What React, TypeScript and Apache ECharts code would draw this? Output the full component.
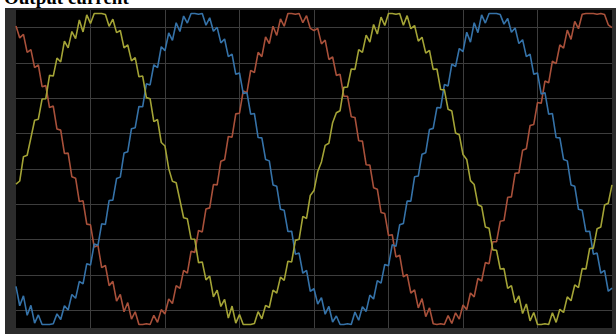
import React, { useEffect, useRef } from "react";
import * as echarts from "echarts";

// time in ms, one sample every 0.25 ms over 40 ms (two 50 Hz periods)
const times: number[] = Array.from({ length: 161 }, (_, i) => i * 0.25);

// phase currents (A)
const phaseYellow: number[] = [
  -43, -34, 35, 39, 88, 138, 141, 198, 199, 265, 263, 314, 303, 362, 343, 389, 369, 422, 388, 436,
  412, 440, 440, 440, 437, 404, 424, 386, 392, 343, 351, 306, 315, 261, 263, 202, 199, 134, 140, 75,
  65, 1, -35, -39, -88, -138, -141, -198, -199, -265, -263, -314, -303, -362, -343, -389, -369, -422, -388, -436,
  -412, -440, -440, -440, -437, -404, -424, -386, -392, -343, -351, -306, -315, -261, -263, -202, -199, -134, -140, -75,
  -61, -7, 20, 67, 73, 131, 159, 165, 231, 232, 283, 282, 338, 330, 379, 359, 409, 382, 430, 406,
  440, 440, 438, 440, 407, 434, 397, 406, 362, 373, 328, 336, 282, 283, 225, 224, 169, 164, 102, 97,
  41, 27, -33, -44, -101, -106, -164, -168, -229, -230, -283, -282, -338, -330, -379, -359, -409, -382, -430, -406,
  -440, -440, -438, -440, -407, -434, -397, -406, -362, -373, -328, -336, -282, -283, -225, -224, -169, -164, -102, -97,
  -45,
];
const phaseBlue: number[] = [
  -332, -387, -359, -414, -386, -436, -413, -440, -440, -440, -438, -410, -426, -387, -399, -355, -366, -318, -325, -268,
  -272, -212, -216, -155, -157, -89, -88, -27, -23, 45, 49, 114, 117, 177, 176, 241, 238, 295, 287, 346,
  335, 385, 364, 414, 389, 433, 413, 440, 440, 438, 440, 407, 428, 390, 401, 357, 368, 318, 325, 268,
  272, 214, 216, 155, 157, 89, 88, 27, 23, -45, -49, -114, -117, -177, -176, -241, -238, -295, -287, -346,
  -339, -382, -364, -411, -389, -433, -416, -440, -440, -438, -440, -405, -428, -390, -403, -357, -368, -316, -323, -270,
  -274, -214, -219, -158, -154, -91, -91, -22, -20, 42, 46, 112, 115, 174, 173, 239, 235, 297, 290, 341,
  332, 387, 359, 414, 386, 436, 413, 440, 440, 440, 437, 410, 426, 387, 399, 355, 366, 318, 325, 268,
  272, 212, 216, 155, 157, 89, 88, 27, 23, -45, -49, -114, -117, -177, -176, -241, -238, -295, -287, -346,
  -337,
];
const phaseRed: number[] = [
  405, 371, 381, 330, 338, 287, 295, 233, 236, 174, 178, 113, 110, 44, 45, -22, -26, -92, -90, -156,
  -158, -221, -216, -279, -273, -330, -318, -374, -355, -404, -378, -425, -404, -440, -440, -438, -440, -414, -434, -398,
  -410, -368, -381, -330, -338, -287, -295, -233, -236, -174, -178, -113, -110, -44, -45, 22, 26, 92, 90, 156,
  158, 221, 216, 279, 273, 330, 318, 374, 355, 404, 378, 425, 404, 440, 440, 438, 440, 414, 434, 398,
  392, 398, 354, 365, 310, 317, 265, 268, 206, 206, 148, 146, 80, 79, 12, 11, -53, -57, -123, -126,
  -188, -186, -249, -244, -305, -298, -351, -342, -393, -367, -418, -393, -438, -440, -438, -440, -415, -437, -407, -425,
  -385, -398, -351, -362, -310, -317, -265, -268, -206, -206, -148, -146, -80, -79, -12, -11, 53, 57, 123, 126,
  188, 186, 249, 244, 305, 298, 351, 342, 393, 367, 418, 397, 438, 440, 440, 440, 438, 440, 437, 408,
  400,
];

const titleText = "Output current";

export default function App() {
  const ref = useRef<HTMLDivElement>(null);
  useEffect(() => {
    if (!ref.current) return;
    const chart = echarts.init(ref.current, undefined, { renderer: "svg" });
    const pair = (vals: number[]) => times.map((t, i) => [t, vals[i]]);
    chart.setOption({
      animation: false,
      backgroundColor: "#ffffff",
      graphic: [
        {
          type: "rect",
          z: -1,
          shape: { x: 5, y: 8, width: 611, height: 326 },
          style: { fill: "#2c2c2c" },
        },
        {
          type: "text",
          x: 4,
          y: 7,
          style: {
            text: titleText,
            font: "bold 19px 'Liberation Serif', serif",
            fill: "#000",
            verticalAlign: "bottom",
          },
        },
      ],
      grid: {
        left: 16,
        right: 4,
        top: 10,
        bottom: 6,
        show: true,
        backgroundColor: "#000000",
        borderWidth: 0,
      },
      xAxis: {
        type: "value",
        min: 0,
        max: 40,
        interval: 5,
        axisLine: { show: false },
        axisTick: { show: false },
        axisLabel: { show: false },
        splitLine: {
          show: true,
          showMinLine: false,
          showMaxLine: false,
          lineStyle: { color: "#3d3d3d", width: 1 },
        },
      },
      yAxis: {
        type: "value",
        min: -450,
        max: 450,
        interval: 50,
        axisLine: { show: false },
        axisTick: { show: false },
        axisLabel: { show: false },
        splitLine: {
          show: true,
          lineStyle: { color: ["rgba(0,0,0,0)", "#3d3d3d"], width: 1 },
        },
      },
      series: [
        {
          type: "line",
          data: pair(phaseRed),
          showSymbol: false,
          lineStyle: { color: "#a8503a", width: 1.6 },
          itemStyle: { color: "#a8503a" },
        },
        {
          type: "line",
          data: pair(phaseBlue),
          showSymbol: false,
          lineStyle: { color: "#3572a8", width: 1.6 },
          itemStyle: { color: "#3572a8" },
        },
        {
          type: "line",
          data: pair(phaseYellow),
          showSymbol: false,
          lineStyle: { color: "#a3a336", width: 1.6 },
          itemStyle: { color: "#a3a336" },
        },
      ],
    });
    return () => chart.dispose();
  }, []);
  return (
    <div
      ref={ref}
      style={{ position: "fixed", left: 0, top: 0, width: 616, height: 334, background: "#fff" }}
    />
  );
}
